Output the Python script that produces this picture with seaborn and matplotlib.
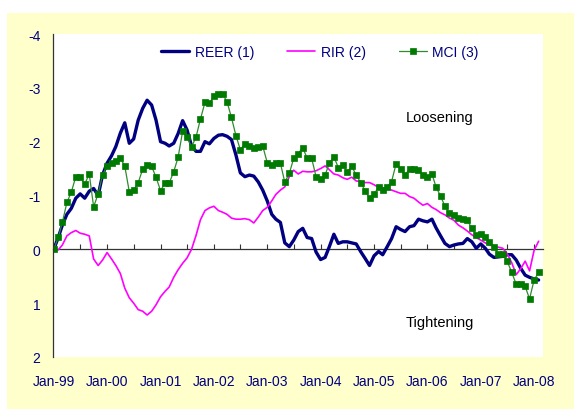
import matplotlib
matplotlib.use("Agg")
import matplotlib.pyplot as plt
import matplotlib.dates as mdates
from matplotlib.patches import Rectangle
import numpy as np
import pandas as pd
import seaborn as sns

# monthly data, Jan-99 onwards (negative = loosening, axis is inverted)
start_month = "1999-01-01"

reer = [0.00, -0.22, -0.45, -0.65, -0.76, -0.95, -1.03, -0.95, -1.08, -1.13,
        -1.00, -1.38, -1.60, -1.74, -1.91, -2.16, -2.35, -1.97, -2.05, -2.40,
        -2.62, -2.77, -2.68, -2.40, -2.00, -1.97, -1.92, -1.97, -2.15, -2.39,
        -2.22, -1.92, -1.82, -1.82, -2.00, -1.96, -2.06, -2.12, -2.13, -2.10,
        -2.04, -1.75, -1.42, -1.35, -1.38, -1.36, -1.25, -1.10, -0.90, -0.65,
        -0.56, -0.50, -0.12, -0.05, -0.17, -0.33, -0.39, -0.22, -0.20, 0.05,
        0.19, 0.15, -0.05, -0.28, -0.11, -0.14, -0.14, -0.12, -0.10, 0.04,
        0.17, 0.30, 0.12, 0.04, 0.10, -0.05, -0.20, -0.42, -0.37, -0.33,
        -0.42, -0.44, -0.56, -0.53, -0.51, -0.56, -0.40, -0.25, -0.11, -0.05,
        -0.08, -0.10, -0.11, -0.20, -0.14, -0.02, -0.10, -0.02, 0.09, 0.15,
        0.14, 0.13, 0.10, 0.10, 0.20, 0.35, 0.48, 0.52, 0.55, 0.57]

rir = [0.00, 0.01, -0.08, -0.25, -0.31, -0.35, -0.30, -0.28, -0.25, 0.18,
       0.30, 0.20, 0.06, 0.18, 0.30, 0.45, 0.72, 0.90, 1.00, 1.12,
       1.15, 1.22, 1.15, 1.03, 0.88, 0.78, 0.70, 0.52, 0.38, 0.26,
       0.16, 0.00, -0.26, -0.55, -0.72, -0.77, -0.80, -0.72, -0.69, -0.65,
       -0.58, -0.56, -0.56, -0.57, -0.55, -0.49, -0.60, -0.72, -0.78, -0.90,
       -1.02, -1.10, -1.16, -1.35, -1.47, -1.40, -1.45, -1.44, -1.44, -1.46,
       -1.50, -1.55, -1.48, -1.40, -1.38, -1.33, -1.30, -1.34, -1.27, -1.26,
       -1.24, -1.24, -1.20, -1.15, -1.14, -1.13, -1.10, -1.07, -1.04, -1.04,
       -0.98, -0.95, -0.88, -0.82, -0.85, -0.78, -0.74, -0.68, -0.64, -0.58,
       -0.54, -0.45, -0.40, -0.34, -0.27, -0.22, -0.17, -0.12, -0.08, -0.06,
       -0.04, -0.02, 0.08, 0.25, 0.47, 0.36, 0.22, 0.40, 0.02, -0.15]

mci = [0.00, -0.22, -0.50, -0.87, -1.06, -1.35, -1.34, -1.21, -1.40, -0.79,
       -1.03, -1.38, -1.55, -1.60, -1.65, -1.69, -1.55, -1.07, -1.10, -1.24,
       -1.49, -1.57, -1.54, -1.34, -1.09, -1.23, -1.23, -1.44, -1.71, -2.19,
       -2.09, -1.90, -2.09, -2.42, -2.73, -2.71, -2.84, -2.89, -2.89, -2.74,
       -2.45, -2.11, -1.85, -1.96, -1.92, -1.88, -1.91, -1.92, -1.61, -1.57,
       -1.60, -1.60, -1.25, -1.41, -1.69, -1.78, -1.89, -1.69, -1.69, -1.35,
       -1.30, -1.38, -1.60, -1.72, -1.52, -1.57, -1.44, -1.54, -1.38, -1.24,
       -1.09, -0.95, -1.03, -1.15, -1.10, -1.16, -1.26, -1.59, -1.49, -1.38,
       -1.50, -1.49, -1.47, -1.38, -1.35, -1.40, -1.16, -0.99, -0.80, -0.67,
       -0.64, -0.58, -0.56, -0.54, -0.39, -0.27, -0.28, -0.23, -0.14, -0.05,
       0.09, 0.09, 0.22, 0.43, 0.65, 0.65, 0.69, 0.92, 0.57, 0.43]

series_names = ["REER (1)", "RIR (2)", "MCI (3)"]
year_labels = ["Jan-99", "Jan-00", "Jan-01", "Jan-02", "Jan-03",
               "Jan-04", "Jan-05", "Jan-06", "Jan-07", "Jan-08"]
y_ticks = [-4, -3, -2, -1, 0, 1, 2]
y_tick_labels = ["-4", "-3", "-2", "-1", "0", "1", "2"]
zone_labels = ["Loosening", "Tightening"]

dates = pd.date_range(start_month, periods=len(reer), freq="MS")
df = pd.DataFrame({"date": dates,
                   series_names[0]: reer,
                   series_names[1]: rir,
                   series_names[2]: mci})

sns.set_style("white")
plt.rcParams["font.family"] = ["Liberation Sans", "DejaVu Sans"]

navy = "#000080"
axis_col = "#333333"

fig = plt.figure(figsize=(5.74, 4.10), dpi=100, facecolor="white")
# pale yellow chart area with the thin white margin top/left
fig.patches.append(Rectangle((7 / 574, 0), 1, 1 - 14 / 410, transform=fig.transFigure,
                             facecolor="#FFFFCC", edgecolor="none", zorder=-10))
ax = fig.add_axes([53 / 574, 1 - 358 / 410, 490 / 574, 323 / 410])
ax.set_facecolor("white")

sns.lineplot(data=df, x="date", y=series_names[0], ax=ax, color=navy,
             linewidth=2.4, label=series_names[0])
sns.lineplot(data=df, x="date", y=series_names[1], ax=ax, color="#FF00FF",
             linewidth=1.2, label=series_names[1])
sns.lineplot(data=df, x="date", y=series_names[2], ax=ax, color="#2E8B2E",
             linewidth=0.9, marker="s", markersize=4.2,
             markerfacecolor="#007A00", markeredgecolor="#007A00",
             markeredgewidth=0.5, label=series_names[2])

ax.set_ylim(2, -4)
x0 = mdates.date2num(dates[0]) - 5
x1 = mdates.date2num(dates[-1]) + 30
ax.set_xlim(x0, x1)

# year labels along the bottom, no tick marks
year_dates = pd.date_range(start_month, periods=len(year_labels), freq="12MS")
ax.set_xticks(mdates.date2num(year_dates))
ax.set_xticklabels(year_labels)
ax.tick_params(axis="x", length=0, pad=12, labelsize=10, labelcolor=navy)

ax.set_yticks(y_ticks)
ax.set_yticklabels(y_tick_labels)
ax.tick_params(axis="y", length=0, pad=9, labelsize=10, labelcolor=navy)
ax.set_xlabel("")
ax.set_ylabel("")

for s in ["top", "right", "bottom"]:
    ax.spines[s].set_visible(False)
ax.spines["left"].set_color(axis_col)
ax.spines["left"].set_linewidth(0.9)

# zero line carrying half-year tick marks
half_years = pd.date_range("1999-07-01", year_dates[-1], freq="6MS")
zero_ax = ax.secondary_xaxis(0, transform=ax.transData)
zero_ax.set_xticks(mdates.date2num(half_years))
zero_ax.tick_params(direction="in", length=3.5, width=0.8, color=axis_col, labelbottom=False)
zero_ax.spines["bottom"].set_color(axis_col)
zero_ax.spines["bottom"].set_linewidth(0.9)

ax.legend(ncol=3, frameon=False, loc="center", bbox_to_anchor=(0.545, 0.944),
          fontsize=10, handlelength=2.0, handletextpad=0.4, columnspacing=2.4,
          labelcolor=navy)

ax.text(0.79, 0.743, zone_labels[0], transform=ax.transAxes, ha="center",
        va="center", fontsize=10.5, color="black")
ax.text(0.79, 0.108, zone_labels[1], transform=ax.transAxes, ha="center",
        va="center", fontsize=10.5, color="black")

fig.savefig("out.png", dpi=100)
